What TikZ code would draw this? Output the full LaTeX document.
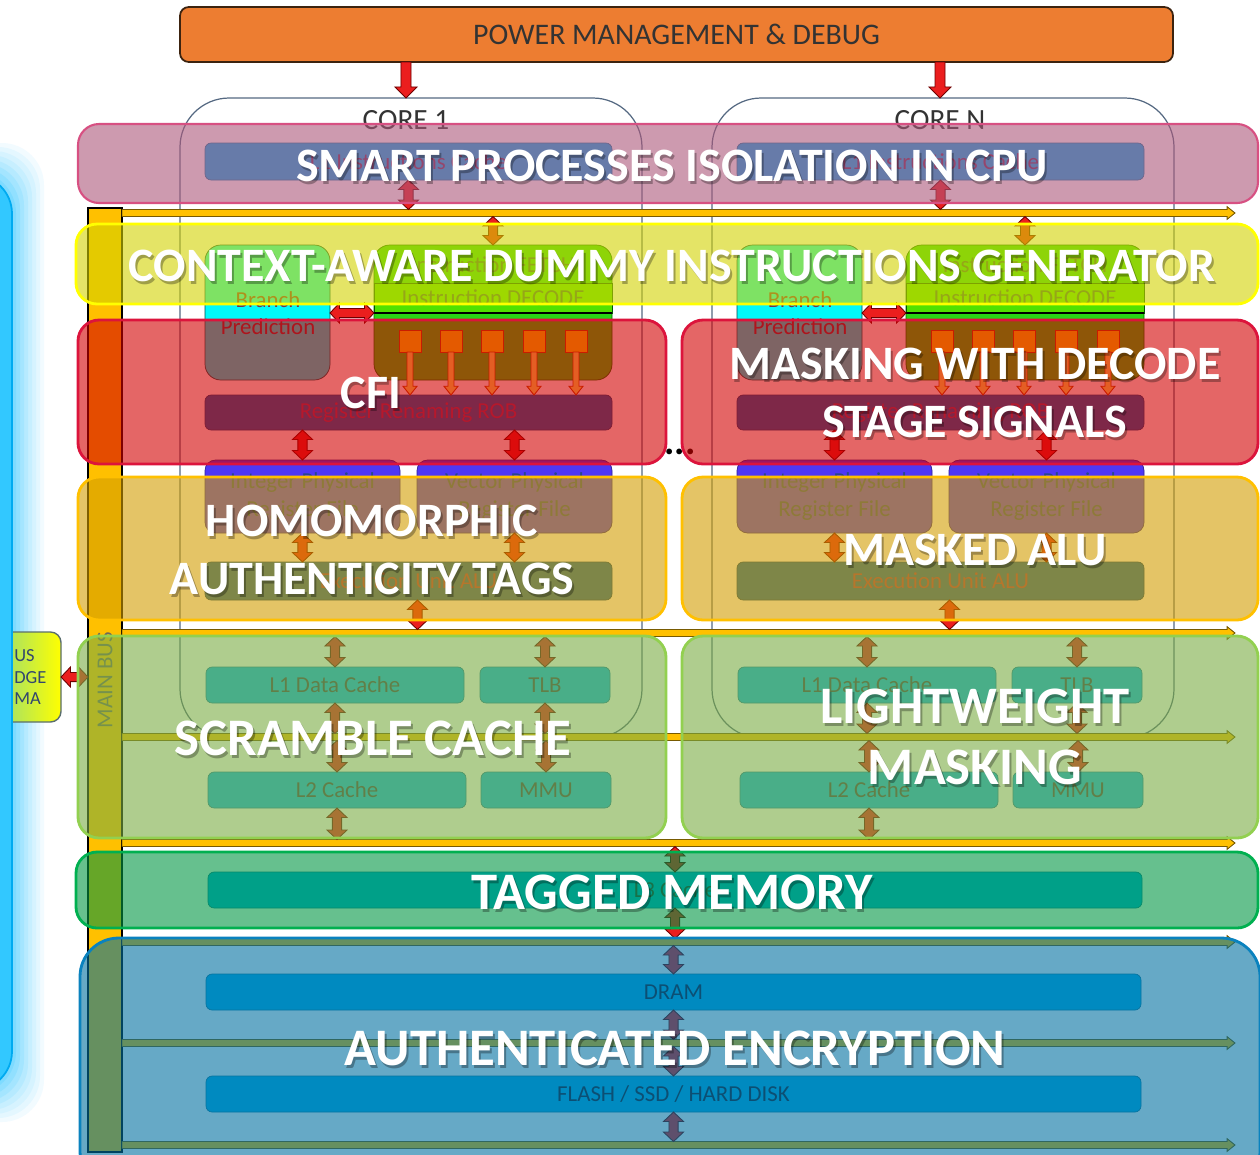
\documentclass[tikz,border=0pt]{standalone}
\usepackage{fontspec}
\setmainfont{Carlito}
\usetikzlibrary{calc,fit}

\definecolor{pmOrange}{RGB}{237,125,49}
\definecolor{pmLine}{RGB}{60,35,15}
\definecolor{busY}{RGB}{255,192,0}
\definecolor{busLine}{RGB}{120,90,0}
\definecolor{coreLine}{RGB}{85,105,130}
\definecolor{barBlue}{RGB}{0,176,240}
\definecolor{barLine}{RGB}{20,120,160}
\definecolor{barText}{RGB}{60,60,80}
\definecolor{dramText}{RGB}{30,30,50}
\definecolor{l1iText}{RGB}{115,45,90}
\definecolor{brCyan}{RGB}{0,250,250}
\definecolor{brText}{RGB}{120,50,70}
\definecolor{ibGreen}{RGB}{40,215,20}
\definecolor{decGreen}{RGB}{80,225,0}
\definecolor{decText}{RGB}{60,100,60}
\definecolor{sqFill}{RGB}{255,225,0}
\definecolor{sqLine}{RGB}{190,70,0}
\definecolor{sqArr}{RGB}{255,235,90}
\definecolor{robBlue}{RGB}{0,100,180}
\definecolor{robText}{RGB}{140,60,110}
\definecolor{prfViolet}{RGB}{78,55,245}
\definecolor{prfText}{RGB}{40,70,140}
\definecolor{arrRed}{RGB}{235,30,30}
\definecolor{arrLine}{RGB}{110,0,0}
\definecolor{panelCyan}{RGB}{50,200,255}
\definecolor{panelLine}{RGB}{0,170,240}
\definecolor{bbGreen}{RGB}{150,220,120}
\definecolor{bbYellow}{RGB}{255,255,0}
\definecolor{bbLine}{RGB}{90,110,110}
\definecolor{bbText}{RGB}{50,70,110}
\definecolor{mbText}{RGB}{110,105,90}
\definecolor{ovPink}{RGB}{172,88,122}
\definecolor{ovPinkL}{RGB}{215,80,130}
\definecolor{ovYellow}{RGB}{210,210,0}
\definecolor{ovYellowL}{RGB}{255,255,0}
\definecolor{ovRed}{RGB}{210,0,0}
\definecolor{ovRedL}{RGB}{220,20,60}
\definecolor{ovGold}{RGB}{210,157,0}
\definecolor{ovGoldL}{RGB}{255,192,0}
\definecolor{ovGreen}{RGB}{123,173,67}
\definecolor{ovGreenL}{RGB}{146,208,80}
\definecolor{ovTeal}{RGB}{0,150,68}
\definecolor{ovTealL}{RGB}{0,176,80}
\definecolor{ovBlue}{RGB}{0,113,160}
\definecolor{ovBlueL}{RGB}{10,130,190}

\tikzset{
  arw/.store in=\arW, arh/.store in=\arH, arl/.store in=\arL,
  blockarr/.style={fill=arrRed, draw=arrLine, line width=0.5pt, arw=2.6pt, arh=5.7pt, arl=5.4pt},
  sqarr/.style={fill=sqArr, draw=sqLine, arw=1.7pt, arh=4pt, arl=5pt},
  busarr/.style={fill=busY, draw=busLine, arw=2pt, arh=3.6pt, arl=4.5pt},
  pwrarr/.style={arw=2.85pt, arh=6.3pt, arl=6.3pt},
  fitbox/.style={inner sep=0pt, outer sep=0pt},
  smalltext/.style={font=\fontsize{13}{16}\selectfont, inner sep=0pt, align=center},
  bar/.style={fitbox, fill=barBlue, draw=barLine, line width=0.4pt, rounded corners=3.5pt},
  bartx/.style={smalltext, text=barText},
  ovl/.style={fitbox, fill opacity=0.6, line width=1.6pt, rounded corners=12pt},
  ovtx/.style={text=white, font=\bfseries\fontsize{27.3}{33}\selectfont, align=center, inner sep=0pt},
  ovtxL/.style={text=white, font=\bfseries\fontsize{30}{34.7}\selectfont, align=center, inner sep=0pt},
}

\newcommand\VDarrow[3][]{\draw[blockarr,#1] let \p1=(#2), \p2=(#3) in
 (\x1,\y1) -- (\x1+\arH,\y1-\arL) -- (\x1+\arW,\y1-\arL) -- (\x1+\arW,\y2+\arL)
 -- (\x1+\arH,\y2+\arL) -- (\x1,\y2) -- (\x1-\arH,\y2+\arL) -- (\x1-\arW,\y2+\arL)
 -- (\x1-\arW,\y1-\arL) -- (\x1-\arH,\y1-\arL) -- cycle;}
\newcommand\VSarrow[3][]{\draw[blockarr,#1] let \p1=(#2), \p2=(#3) in
 (\x1-\arW,\y1) -- (\x1+\arW,\y1) -- (\x1+\arW,\y2+\arL) -- (\x1+\arH,\y2+\arL)
 -- (\x1,\y2) -- (\x1-\arH,\y2+\arL) -- (\x1-\arW,\y2+\arL) -- cycle;}
\newcommand\HDarrow[3][]{\draw[blockarr,#1] let \p1=(#2), \p2=(#3) in
 (\x1,\y1) -- (\x1+\arL,\y1+\arH) -- (\x1+\arL,\y1+\arW) -- (\x2-\arL,\y1+\arW)
 -- (\x2-\arL,\y1+\arH) -- (\x2,\y1) -- (\x2-\arL,\y1-\arH) -- (\x2-\arL,\y1-\arW)
 -- (\x1+\arL,\y1-\arW) -- (\x1+\arL,\y1-\arH) -- cycle;}
\newcommand\HSarrow[3][]{\draw[blockarr,#1] let \p1=(#2), \p2=(#3) in
 (\x1,\y1+\arW) -- (\x2-\arL,\y1+\arW) -- (\x2-\arL,\y1+\arH) -- (\x2,\y1)
 -- (\x2-\arL,\y1-\arH) -- (\x2-\arL,\y1-\arW) -- (\x1,\y1-\arW) -- cycle;}
\newcommand\ovtext[4][ovtx]{%
 \node[#1, text=black, text opacity=0.3] (#2s) at ($(#3)+(2,3)$) {#4};
 \node[#1] (#2) at (#3) {#4};}

\begin{document}
\begin{tikzpicture}[x=0.02cm,y=-0.02cm]
\useasboundingbox (0,0) rectangle (1260,1154);
\clip (0,0) rectangle (1260,1154);
\fill[white] (0,0) rectangle (1260,1154);

% ---------- left panel with glow and bus bridge ----------
\foreach \g/\o in {32/0.06,28/0.07,24/0.08,20/0.09,16/0.11,12/0.13,8/0.16,4/0.2}
  \fill[panelCyan, opacity=\o, rounded corners=24pt] (-100,175-\g) rectangle (12+\g,1090+\g);
\node[fitbox, left color=bbGreen, right color=bbYellow, draw=bbLine, line width=0.8pt,
      rounded corners=6pt, fit={(-4,632) (61,722)}] (bb) {};
\node[anchor=west, text=bbText, font=\fontsize{10.5}{12}\selectfont, align=left, inner sep=0pt]
      (bbtxt) at (14,677) {US\\DGE\\MA};
\node[fitbox, fill=panelCyan, draw=panelLine, line width=1pt, rounded corners=22pt,
      fit={(-100,175) (12,1090)}] (panel) {};

% ---------- power management ----------
\node[fitbox, fill=pmOrange, draw=pmLine, line width=1pt, rounded corners=5pt,
      fit={(180,7) (1173,62)}] (pm) {};
\node[font=\fontsize{17}{20}\selectfont, text=black!80, inner sep=0pt] (pmT) at (pm) {POWER MANAGEMENT \& DEBUG};

% ---------- main bus ----------
\node[fitbox, fill=busY, draw=black, line width=0.8pt, fit={(88,208) (122,1152)}] (mainbus) {};
\node[rotate=90, text=mbText, font=\fontsize{13}{15}\selectfont] (mblbl) at (105,680) {MAIN BUS};
\HDarrow{bb.east}{mainbus.west |- bb.east}

% ---------- cores (outline, label, power arrow) ----------
\foreach \s/\c/\lx/\lt in {0/1/406/CORE 1,532/N/940/CORE N}{
  \node[fitbox, draw=coreLine, line width=0.7pt, rounded corners=28pt,
        fit={(\s+180,98) (\s+642,738)}] (core\c) {};
  \node[font=\fontsize{16.7}{20}\selectfont, text=black!80] (lbl\c) at (\lx,120) {\lt};
  \VSarrow[pwrarr]{pm.south -| lbl\c}{lbl\c |- core\c.north}
}

% ---------- horizontal buses ----------
\foreach \bi/\yy in {1/213,2/633,3/737,4/843,5/942,6/1043,7/1145}{
  \coordinate (bus\bi) at (1235,\yy);
  \coordinate (bust\bi) at (1235,\yy-3.5);
  \coordinate (busb\bi) at (1235,\yy+3.5);
  \HSarrow[busarr]{mainbus.east |- bus\bi}{bus\bi}
}

% ---------- core internals ----------
\foreach \s/\c in {0/1,532/N}{
  \node[bar, fit={(\s+205,143) (\s+612,180)}] (l1i\c) {};
  \node[bartx, text=l1iText] (l1iT\c) at (l1i\c) {L1 Instructions Cache};
  \node[fitbox, fill=brCyan, draw=teal!60!black, line width=0.4pt, rounded corners=9pt,
        fit={(\s+205,245) (\s+330,380)}] (br\c) {};
  \node[smalltext, text=brText, font=\fontsize{13}{15}\selectfont] (brT\c) at (\s+268,313) {Branch\\Prediction};
  \node[fitbox, fill=ibGreen, draw=green!40!black, line width=0.4pt, rounded corners=9pt,
        fit={(\s+374,245) (\s+612,380)}] (ib\c) {};
  \node[smalltext, text=decText] (fetch\c) at (\s+493,265) {Instruction FETCH};
  \node[fitbox, fill=decGreen, draw=green!35!black, line width=0.4pt,
        fit={(\s+374,283) (\s+612,313)}] (dec\c) {};
  \node[smalltext, text=decText] (decT\c) at (dec\c) {Instruction DECODE};
  \draw[line width=1pt] (dec\c.south west) -- (dec\c.south east);
  \node[bar, fill=robBlue, draw=robBlue!70!black, fit={(\s+205,395) (\s+612,430)}] (rob\c) {};
  \node[bartx, text=robText] (robT\c) at (rob\c) {Register Renaming ROB};
  \foreach \k/\xx in {1/410,2/451,3/492,4/534,5/576}{
    \node[fitbox, fill=sqFill, draw=sqLine, line width=0.5pt,
          fit={(\s+\xx-11,330) (\s+\xx+11,352)}] (sq\c\k) {};
    \VSarrow[sqarr]{sq\c\k.south}{sq\c\k.south |- rob\c.north}
  }
  \node[fitbox, fill=prfViolet, draw=prfViolet!60!black, line width=0.4pt, rounded corners=6pt,
        fit={(\s+205,460) (\s+400,533)}] (iprf\c) {};
  \node[smalltext, text=prfText] (iprfT\c) at (iprf\c) {Integer Physical\\Register File};
  \node[fitbox, fill=prfViolet, draw=prfViolet!60!black, line width=0.4pt, rounded corners=6pt,
        fit={(\s+417,460) (\s+612,533)}] (vprf\c) {};
  \node[smalltext, text=prfText] (vprfT\c) at (vprf\c) {Vector Physical\\Register File};
  \node[bar, fill=robBlue, draw=robBlue!70!black, fit={(\s+205,562) (\s+612,600)}] (eu\c) {};
  \node[bartx, text=robText] (euT\c) at (eu\c) {Execution Unit ALU};
  \node[bar, fit={(\s+206,667) (\s+464,703)}] (l1d\c) {};
  \node[bartx] (l1dT\c) at (l1d\c) {L1 Data Cache};
  \node[bar, fit={(\s+480,667) (\s+610,703)}] (tlb\c) {};
  \node[bartx] (tlbT\c) at (tlb\c) {TLB};
  \node[bar, fit={(\s+208,772) (\s+466,808)}] (l2\c) {};
  \node[bartx] (l2T\c) at (l2\c) {L2 Cache};
  \node[bar, fit={(\s+481,772) (\s+611,808)}] (mmu\c) {};
  \node[bartx] (mmuT\c) at (mmu\c) {MMU};
  \coordinate (euo\c) at ($(eu\c.south)+(9,0)$);
  % arrows
  \VDarrow{l1i\c.south}{l1i\c.south |- bust1}
  \VDarrow{ib\c.north |- busb1}{ib\c.north}
  \HDarrow{br\c.east |- dec\c.south}{dec\c.south west}
  \VDarrow{iprf\c.north |- rob\c.south}{iprf\c.north}
  \VDarrow{vprf\c.north |- rob\c.south}{vprf\c.north}
  \VDarrow{iprf\c.south}{iprf\c.south |- eu\c.north}
  \VDarrow{vprf\c.south}{vprf\c.south |- eu\c.north}
  \VDarrow{euo\c}{euo\c |- bust2}
  \VDarrow{l1d\c.north |- busb2}{l1d\c.north}
  \VDarrow{tlb\c.north |- busb2}{tlb\c.north}
  \VDarrow{l1d\c.south}{l1d\c.south |- bust3}
  \VDarrow{tlb\c.south}{tlb\c.south |- bust3}
  \VDarrow{l2\c.north |- busb3}{l2\c.north}
  \VDarrow{mmu\c.north |- busb3}{mmu\c.north}
  \VDarrow{l2\c.south}{l2\c.south |- bust4}
}

% ---------- shared memory hierarchy ----------
\node[bar, fit={(208,872) (1142,908)}] (l3) {};
\node[bartx] (l3T) at (l3) {L3 Cache};
\node[bar, fit={(206,974) (1141,1010)}] (dram) {};
\node[bartx, text=dramText] (dramT) at (dram) {DRAM};
\node[bar, fit={(206,1076) (1141,1112)}] (flash) {};
\node[bartx, text=dramText] (flashT) at (flash) {FLASH / SSD / HARD DISK};
\VDarrow{l3.north |- busb4}{l3.north}
\VDarrow{l3.south}{l3.south |- bust5}
\VDarrow{dram.north |- busb5}{dram.north}
\VDarrow{dram.south}{dram.south |- bust6}
\VDarrow{flash.north |- busb6}{flash.north}
\VDarrow{flash.south}{flash.south |- bust7}

\node[font=\bfseries\fontsize{22}{22}\selectfont] (dots) at (680,452) {...};

% ---------- overlays ----------
\node[ovl, fill=ovPink, draw=ovPinkL, line width=1.2pt, fit={(78,124) (1258,203)}] (ovSmart) {};
\node[ovl, fill=ovYellow, draw=ovYellowL, fit={(76,224) (1258,304)}] (ovCtx) {};
\node[ovl, fill=ovRed, draw=ovRedL, fit={(78,320) (666,464)}] (ovCfi) {};
\node[ovl, fill=ovRed, draw=ovRedL, fit={(682,320) (1258,464)}] (ovMask) {};
\node[ovl, fill=ovGold, draw=ovGoldL, fit={(78,477) (666,620)}] (ovHom) {};
\node[ovl, fill=ovGold, draw=ovGoldL, fit={(682,477) (1258,620)}] (ovAlu) {};
\node[ovl, fill=ovGreen, draw=ovGreenL, fit={(78,636) (666,838)}] (ovScr) {};
\node[ovl, fill=ovGreen, draw=ovGreenL, fit={(682,636) (1258,838)}] (ovLw) {};
\node[ovl, fill=ovTeal, draw=ovTealL, fit={(76,852) (1258,928)}] (ovTag) {};
\node[ovl, fill=ovBlue, draw=ovBlueL, rounded corners=22pt, fit={(80,938) (1260,1190)}] (ovAe) {};

% ---------- overlay texts ----------
\ovtext{tSmart}{672,166}{SMART PROCESSES ISOLATION IN CPU}
\ovtext{tCtx}{672,266}{CONTEXT-AWARE DUMMY INSTRUCTIONS GENERATOR}
\ovtext{tCfi}{371,393}{CFI}
\ovtext{tMask}{975,393}{MASKING WITH DECODE\\STAGE SIGNALS}
\ovtext{tHom}{372,550}{HOMOMORPHIC\\AUTHENTICITY TAGS}
\ovtext{tAlu}{975,550}{MASKED ALU}
\ovtext[ovtxL]{tScr}{373,738}{SCRAMBLE CACHE}
\ovtext[ovtxL]{tLw}{975,737}{LIGHTWEIGHT\\MASKING}
\ovtext[ovtxL]{tTag}{672,892}{TAGGED MEMORY}
\ovtext[ovtxL]{tAe}{675,1048}{AUTHENTICATED ENCRYPTION}
\end{tikzpicture}
\end{document}
